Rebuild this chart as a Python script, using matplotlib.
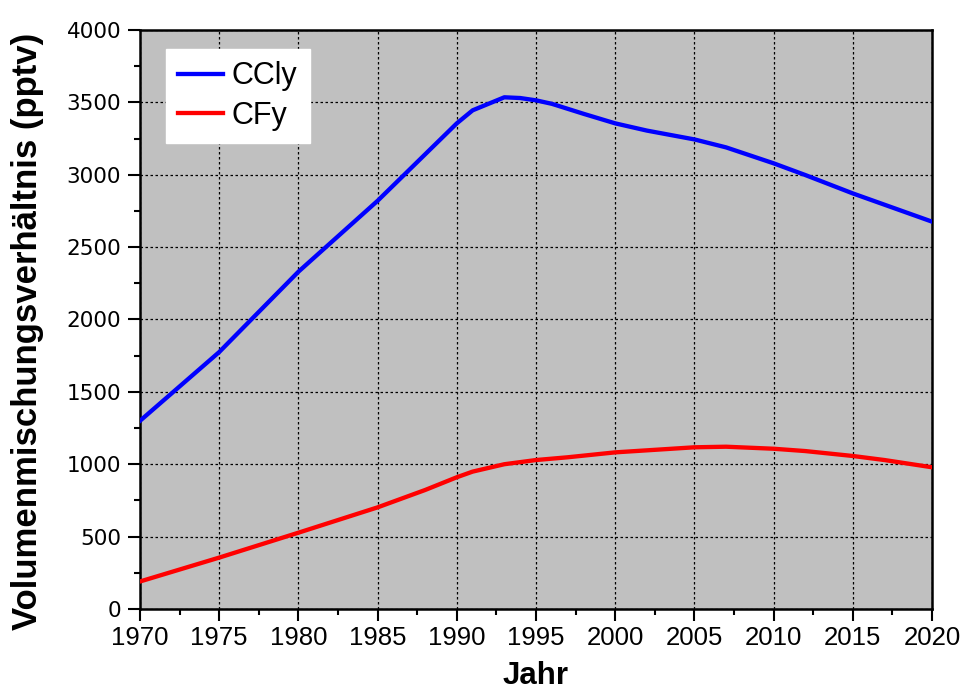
import matplotlib
matplotlib.use("Agg")
import matplotlib.pyplot as plt
from matplotlib.ticker import MultipleLocator

plt.rcParams['font.family'] = ['Liberation Sans', 'DejaVu Sans']

# Daten
years_ccly = [1970, 1975, 1980, 1985, 1990, 1991, 1993, 1994, 1995, 1996, 1998,
              2000, 2002, 2005, 2007, 2010, 2012, 2015, 2020]
ccly = [1300, 1775, 2330, 2820, 3355, 3445, 3535, 3530, 3514, 3490, 3421,
        3355, 3305, 3244, 3189, 3079, 2998, 2871, 2676]

years_cfy = [1970, 1975, 1980, 1985, 1988, 1990, 1991, 1993, 1995, 1997, 2000,
             2005, 2007, 2010, 2012, 2015, 2017, 2020]
cfy = [190, 355, 527, 702, 822, 910, 949, 1000, 1029, 1048, 1082,
       1117, 1121, 1107, 1091, 1057, 1029, 979]

fig = plt.figure(figsize=(9.61, 6.91), dpi=100)
ax = fig.add_axes([0.1457, 0.1187, 0.8241, 0.8379])
ax.set_facecolor('#c0c0c0')

ax.plot(years_ccly, ccly, color='#0000ff', lw=3.1, label='CCly', zorder=3)
ax.plot(years_cfy, cfy, color='#ff0000', lw=3.1, label='CFy', zorder=3)

ax.set_xlim(1970, 2020)
ax.set_ylim(0, 4000)
ax.xaxis.set_major_locator(MultipleLocator(5))
ax.xaxis.set_minor_locator(MultipleLocator(2.5))
ax.yaxis.set_major_locator(MultipleLocator(500))
ax.yaxis.set_minor_locator(MultipleLocator(250))

ax.grid(True, which='major', color='black', ls=(0, (2, 2)), lw=0.9, zorder=1)
ax.set_axisbelow(True)

for s in ax.spines.values():
    s.set_linewidth(1.8)
ax.tick_params(which='major', direction='out', length=8.6, width=1.5)
ax.tick_params(which='minor', direction='out', length=4.3, width=1.5)
ax.tick_params(axis='x', which='major', pad=3.6, labelsize=18.5)
ax.tick_params(axis='y', which='major', pad=5)
for lbl in ax.get_yticklabels():
    lbl.set_family(['DejaVu Sans'])
    lbl.set_fontsize(15.5)

ax.set_xlabel('Jahr', fontsize=22.5, fontweight='bold')
ax.xaxis.set_label_coords(0.5, -0.089)
ax.set_ylabel('Volumenmischungsverhältnis (pptv)', fontsize=25, fontweight='bold')
ax.yaxis.set_label_coords(-0.121, 0.48)

leg = ax.legend(loc='upper left', bbox_to_anchor=(0.0328, 0.9667), borderaxespad=0,
                fontsize=22, frameon=True, fancybox=False, handlelength=1.45,
                borderpad=0.4, labelspacing=0.3, handletextpad=0.3)
leg.get_frame().set_facecolor('white')
leg.get_frame().set_edgecolor('white')
leg.get_frame().set_alpha(1)

fig.savefig('out.png', dpi=100)
